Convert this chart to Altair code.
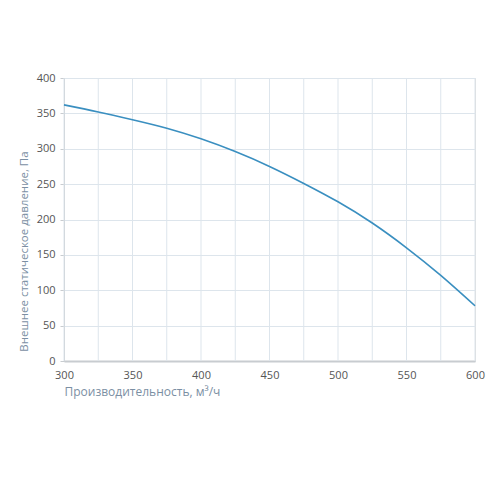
import altair as alt
import pandas as pd

# airflow, m3/h
flow = [300, 325, 350, 375, 400, 425, 450, 475, 500, 525, 550, 575, 600]
# external static pressure, Pa
pressure = [362, 352, 341, 329, 314, 296, 275, 251, 225, 195, 160, 121, 78]

x_ticks = [300, 350, 400, 450, 500, 550, 600]
y_ticks = [0, 50, 100, 150, 200, 250, 300, 350, 400]
x_grid = [300, 325, 350, 375, 400, 425, 450, 475, 500, 525, 550, 575, 600]

data = pd.DataFrame({"flow": flow, "pressure": pressure})

FONT = "Open Sans"

x_scale = alt.Scale(domain=[300, 600], nice=False)
x_axis = alt.Axis(
    values=x_ticks,
    title="Производительность, м³/ч",
    grid=False,
    ticks=False,
    labelFlush=False,
    domainColor="#c8ccd0",
    domainWidth=2,
    labelPadding=8,
    labelFontSize=11,
    labelColor="#555555",
    labelFont=FONT,
    titleFont=FONT,
    titleFontSize=12,
    titleFontWeight="normal",
    titleColor="#7b8fa3",
    titleAnchor="start",
    titleAlign="left",
    titlePadding=6,
)

# vertical grid every 25
vgrid = alt.Chart(pd.DataFrame({"flow": x_grid})).mark_rule(
    color="#dde5ec", strokeWidth=1
).encode(
    x=alt.X("flow:Q", scale=x_scale, axis=x_axis)
)

line = alt.Chart(data).mark_line(color="#3a8fc0", strokeWidth=1.6, interpolate="natural").encode(
    x=alt.X("flow:Q", scale=x_scale, axis=x_axis),
    y=alt.Y(
        "pressure:Q",
        scale=alt.Scale(domain=[0, 400], nice=False),
        axis=alt.Axis(
            values=y_ticks,
            title="Внешнее статическое давление, Па",
            grid=True,
            gridColor="#dde5ec",
            tickColor="#c8ccd0",
            tickSize=4,
            labelFlush=False,
            domainColor="#c8ccd0",
            labelPadding=5,
            labelFontSize=11,
            labelColor="#555555",
            labelFont=FONT,
            titleFont=FONT,
            titleFontSize=11.5,
            titleFontWeight="normal",
            titleColor="#7b8fa3",
            titleAngle=270,
            titleX=-40,
            titleY=173,
            titleAlign="center",
            titleBaseline="middle",
        ),
    ),
)

chart = (vgrid + line).properties(
    width=411,
    height=283,
    autosize=alt.AutoSizeParams(type="none"),
    padding={"left": 56, "top": 70, "right": 17, "bottom": 60},
).configure_view(stroke=None).configure(background="white")

chart.save("out.html", embed_options={"renderer": "svg", "actions": False})
